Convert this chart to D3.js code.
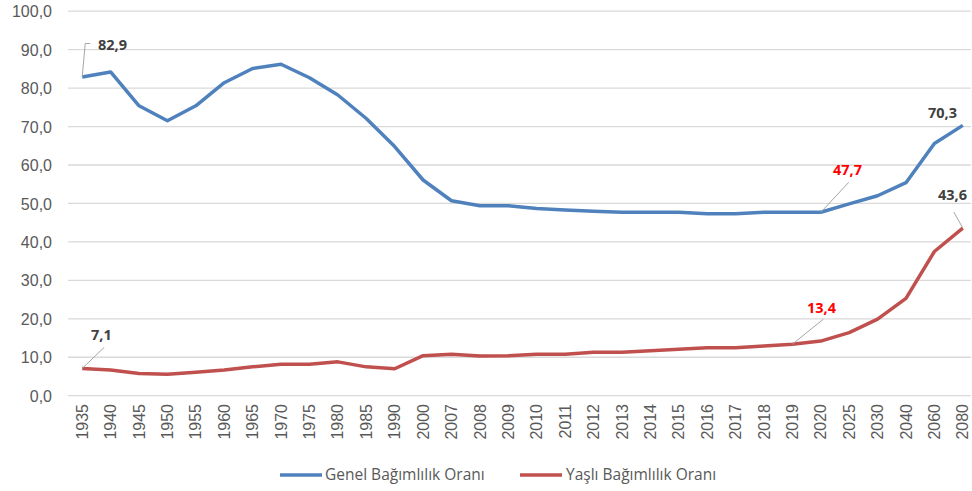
<!DOCTYPE html>
<html><head><meta charset="utf-8">
<script src="https://cdn.jsdelivr.net/npm/d3@7"></script>
<style>body{margin:0;background:#fff}svg{display:block;font-family:"Open Sans","Noto Sans",sans-serif}</style>
</head><body><svg id="c" width="972" height="491"></svg>
<script>
const years = ["1935","1940","1945","1950","1955","1960","1965","1970","1975","1980","1985","1990","2000","2007","2008","2009","2010","2011","2012","2013","2014","2015","2016","2017","2018","2019","2020","2025","2030","2040","2060","2080"];
const genel = [82.9,84.2,75.4,71.5,75.4,81.4,85.1,86.2,82.7,78.2,72.1,64.8,56.1,50.7,49.4,49.4,48.7,48.3,48.0,47.7,47.7,47.7,47.3,47.3,47.7,47.7,47.7,49.9,52.0,55.4,65.6,70.3];
const yasli = [7.1,6.7,5.8,5.6,6.1,6.7,7.5,8.2,8.2,8.8,7.5,7.0,10.4,10.8,10.3,10.4,10.8,10.8,11.3,11.3,11.7,12.1,12.5,12.5,12.9,13.4,14.2,16.4,19.9,25.3,37.5,43.6];
const yTicks = [0,10,20,30,40,50,60,70,80,90,100];
const seriesNames = ["Genel Bağımlılık Oranı","Yaşlı Bağımlılık Oranı"];
const colors = ["#4F81BD","#C0504D"];

const svg = d3.select("#c");
const x = d3.scaleBand().domain(years).range([68, 977]);
const y = d3.scaleLinear().domain([0,100]).range([395.7, 11.2]);
const cx = d => x(d) + x.bandwidth()/2;
const fmt = v => d3.format(".1f")(v).replace(".", ",");

// gridlines
svg.append("g").selectAll("line").data(yTicks).join("line")
  .attr("x1", 68).attr("x2", 971)
  .attr("y1", d => y(d)).attr("y2", d => y(d))
  .attr("stroke", "#d9d9d9").attr("stroke-width", 1.3);

// y axis labels
const ya = svg.append("g").attr("transform","translate(52,0)")
  .call(d3.axisLeft(y).tickValues(yTicks).tickFormat(fmt).tickSize(0).tickPadding(0));
ya.select(".domain").remove();
ya.selectAll("text").attr("fill","#595959").style("font-size","16px").attr("dy","0.35em");

// x axis labels
const xa = svg.append("g").attr("transform","translate(0,403)")
  .call(d3.axisBottom(x).tickSize(0).tickPadding(0));
xa.select(".domain").remove();
xa.selectAll("text").attr("fill","#595959").style("font-size","16px")
  .attr("text-anchor","end").attr("transform","rotate(-90)")
  .attr("x", -1).attr("y", 0).attr("dx", 0).attr("dy", "0.35em");

// lines
const line = d3.line().x((d,i) => cx(years[i])).y(d => y(d));
[genel, yasli].forEach((s, k) => {
  svg.append("path").datum(s).attr("d", line).attr("fill","none")
    .attr("stroke", colors[k]).attr("stroke-width", 3.5).attr("stroke-linejoin","round");
});

// data labels with leader lines
const labels = [
  {s: genel, i: 0, tx: 98, ty: 45, col:"#404040", path: (px,py)=>`M${px},${py}L${px+3},43.5L${px+8},43.5`},
  {s: yasli, i: 0, tx: 91, ty: 335, col:"#404040", path: (px,py)=>`M${px},${py}L${px+22},${py-21}`},
  {s: genel, i: 26, tx: 833, ty: 170, col:"#FF0000", path: (px,py)=>`M${px},${py}L${px+28},${py-30}`},
  {s: yasli, i: 25, tx: 807, ty: 308, col:"#FF0000", path: (px,py)=>`M${px},${py}L${px+31},${py-25}`},
  {s: genel, i: 31, tx: 928, ty: 113, col:"#404040", path: null},
  {s: yasli, i: 31, tx: 938, ty: 195, col:"#404040", path: (px,py)=>`M${px-9},${py-16}L${px},${py}`}
];
labels.forEach(l => {
  const px = cx(years[l.i]), py = y(l.s[l.i]);
  if (l.path) svg.append("path").attr("d", l.path(px,py)).attr("fill","none")
    .attr("stroke","#a6a6a6").attr("stroke-width",1);
  svg.append("text").attr("x", l.tx).attr("y", l.ty).attr("dy","0.35em")
    .attr("fill", l.col)
    .style("font-size","14.5px").style("font-weight","bold").text(fmt(l.s[l.i]));
});

// legend
const leg = [{x:280, tx:325}, {x:520, tx:566}];
seriesNames.forEach((n,k) => {
  svg.append("line").attr("x1", leg[k].x).attr("x2", leg[k].x+42)
    .attr("y1", 475).attr("y2", 475).attr("stroke", colors[k]).attr("stroke-width", 3.5);
  svg.append("text").attr("x", leg[k].tx).attr("y", 475).attr("dy","0.35em")
    .attr("fill","#595959").style("font-size","15.5px").text(n);
});
</script></body></html>
